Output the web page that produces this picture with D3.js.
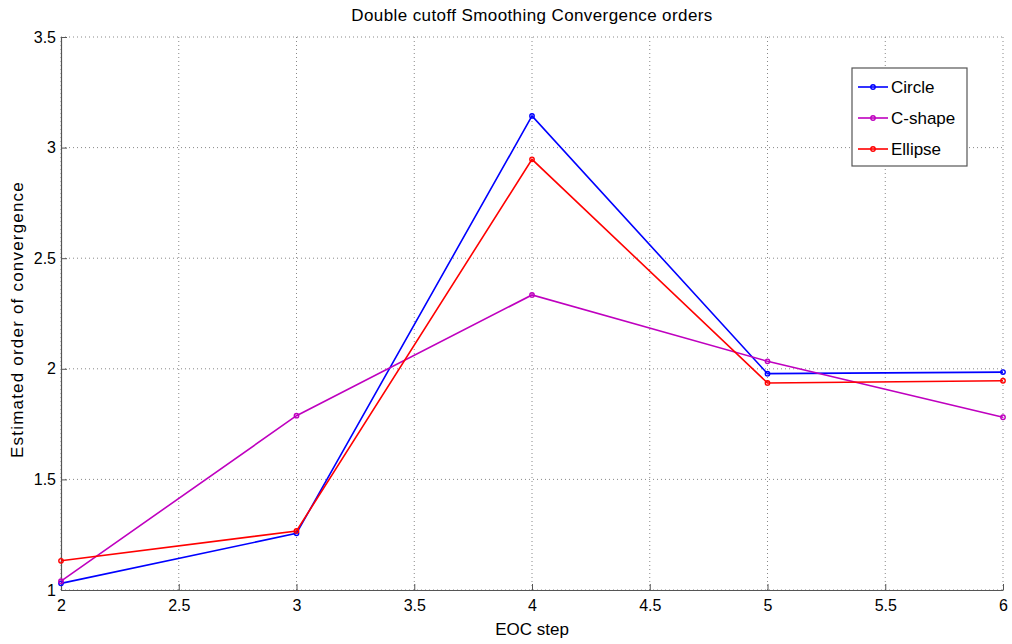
<!DOCTYPE html>
<html>
<head>
<meta charset="utf-8">
<script src="https://cdn.jsdelivr.net/npm/d3@7"></script>
<style>
  body { margin: 0; background: #fff; }
  text { font-family: "Liberation Sans", Arial, sans-serif; fill: #000; }
</style>
</head>
<body>
<div id="chart"></div>
<script>
// EOC steps and estimated orders
var steps = [2, 3, 4, 5, 6];
var circle = [1.03, 1.256, 3.143, 1.978, 1.985];
var cshape = [1.04, 1.788, 2.334, 2.034, 1.781];
var ellipse = [1.132, 1.267, 2.947, 1.936, 1.946];
var seriesNames = ["Circle", "C-shape", "Ellipse"];
var seriesColors = ["#0000ff", "#bf00bf", "#ff0000"];
var xTicks = [2, 2.5, 3, 3.5, 4, 4.5, 5, 5.5, 6];
var yTicks = [1, 1.5, 2, 2.5, 3, 3.5];

var W = 1012, H = 644;
var margin = {top: 37, right: 9, bottom: 54, left: 61};
var w = W - margin.left - margin.right,
    h = H - margin.top - margin.bottom;

var svg = d3.select("#chart").append("svg")
    .attr("width", W).attr("height", H);
var g = svg.append("g")
    .attr("transform", "translate(" + margin.left + "," + margin.top + ")");

var x = d3.scaleLinear().domain([2, 6]).range([0, w]);
var y = d3.scaleLinear().domain([1, 3.5]).range([h, 0]);

//dotted grid
g.append("g").selectAll("line.vg")
    .data(xTicks).join("line")
    .attr("x1", d => x(d)).attr("x2", d => x(d))
    .attr("y1", 0).attr("y2", h)
    .style("stroke", "#888").style("stroke-width", 1)
    .style("stroke-dasharray", "1,3");
g.append("g").selectAll("line.hg")
    .data(yTicks).join("line")
    .attr("x1", 0).attr("x2", w)
    .attr("y1", d => y(d)).attr("y2", d => y(d))
    .style("stroke", "#888").style("stroke-width", 1)
    .style("stroke-dasharray", "1,3");

//axes, ticks pointing inward
var xAxis = g.append("g").attr("transform", "translate(0," + h + ")")
    .call(d3.axisBottom(x).tickValues(xTicks).tickSizeInner(-6).tickSizeOuter(0).tickPadding(10).tickFormat(d3.format("")));
var yAxis = g.append("g")
    .call(d3.axisLeft(y).tickValues(yTicks).tickSizeInner(-6).tickSizeOuter(0).tickPadding(5).tickFormat(d3.format("")));
[xAxis, yAxis].forEach(function(a) {
  a.select(".domain").style("stroke", "#555").style("stroke-width", 1.2);
  a.selectAll(".tick line").style("stroke", "#555");
  a.selectAll("text").style("font-size", "16px")
    .style("font-family", "'Liberation Sans', Arial, sans-serif").style("fill", "#000");
});

//the lines
var data = [circle, cshape, ellipse].map(function(vals, i) {
  return {name: seriesNames[i], color: seriesColors[i],
          values: vals.map(function(v, j) { return {x: steps[j], y: v}; })};
});
var line = d3.line().x(d => x(d.x)).y(d => y(d.y));

var series = g.selectAll(".series").data(data).join("g").attr("class", "series");
series.append("path")
    .attr("d", d => line(d.values))
    .style("fill", "none")
    .style("stroke", d => d.color)
    .style("stroke-width", 1.6);
series.selectAll("circle")
    .data(d => d.values.map(v => ({x: v.x, y: v.y, color: d.color})))
    .join("circle")
    .attr("cx", d => x(d.x)).attr("cy", d => y(d.y))
    .attr("r", 2.2)
    .style("fill", "none")
    .style("stroke", d => d.color)
    .style("stroke-width", 1.4);

//title and labels
svg.append("text")
    .attr("x", margin.left + w / 2).attr("y", 21)
    .attr("text-anchor", "middle").style("font-size", "17px")
    .style("letter-spacing", "0.4px")
    .text("Double cutoff Smoothing Convergence orders");
svg.append("text")
    .attr("x", margin.left + w / 2).attr("y", 635)
    .attr("text-anchor", "middle").style("font-size", "17px")
    .text("EOC step");
svg.append("text")
    .attr("transform", "translate(23," + (margin.top + h / 2 + 6) + ") rotate(-90)")
    .attr("text-anchor", "middle").style("font-size", "17px")
    .style("letter-spacing", "1.2px")
    .text("Estimated order of convergence");

//legend
var legend = svg.append("g").attr("transform", "translate(852,68)");
legend.append("rect")
    .attr("width", 115).attr("height", 98)
    .style("fill", "#fff").style("stroke", "#555").style("stroke-width", 1.2);
var item = legend.selectAll(".item").data(data).join("g")
    .attr("transform", (d, i) => "translate(0," + (19 + i * 31) + ")");
item.append("line")
    .attr("x1", 6).attr("x2", 36)
    .style("stroke", d => d.color).style("stroke-width", 1.6);
item.append("circle")
    .attr("cx", 21).attr("r", 2.2)
    .style("fill", "none").style("stroke", d => d.color).style("stroke-width", 1.4);
item.append("text")
    .attr("x", 39).attr("dy", "0.35em")
    .style("font-size", "17px")
    .text(d => d.name);
</script>
</body>
</html>
